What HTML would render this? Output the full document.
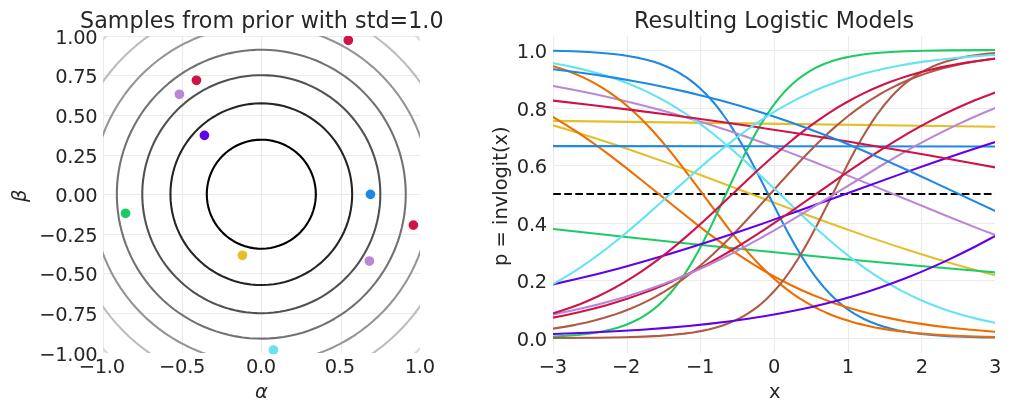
<!DOCTYPE html>
<html lang="en">
<head>
<meta charset="utf-8">
<title>Prior samples and resulting logistic models</title>
<style>
html,body{margin:0;padding:0;background:#fff;}
body{width:1011px;height:411px;overflow:hidden;font-family:"DejaVu Sans","Liberation Sans",sans-serif;}
svg text{font-family:"DejaVu Sans","Liberation Sans",sans-serif;}
</style>
</head>
<body>
<svg width="1011" height="411" viewBox="0 0 727.92 295.92" style="display:block">
 <defs>
  <style type="text/css">*{stroke-linejoin: round; stroke-linecap: butt}</style>
 </defs>
 <g id="figure_1">
  <g id="patch_1">
   <path d="M 0 295.92 
L 727.92 295.92 
L 727.92 0 
L 0 0 
z
" style="fill: #ffffff"/>
  </g>
  <g id="axes_1">
   <g id="patch_2">
    <path d="M 74.088 253.872 
L 302.184 253.872 
L 302.184 25.776 
L 74.088 25.776 
z
" style="fill: #ffffff"/>
   </g>
   <g id="matplotlib.axis_1">
    <g id="xtick_1">
     <g id="line2d_1">
      <path d="M 74.52 253.872 L 74.52 25.776" clip-path="url(#p605b40b7c9)" style="fill: none; stroke: #ebebeb; stroke-width: 0.8; stroke-linecap: square"/>
     </g>
     <g id="line2d_2"/>
     <g id="text_1">
      <text style="font-size: 14px; text-anchor: middle; fill: #262626; letter-spacing: -0.216px" x="73.296" y="268.7298">−1.0</text>
     </g>
    </g>
    <g id="xtick_2">
     <g id="line2d_3">
      <path d="M 131.4 253.872 L 131.4 25.776" clip-path="url(#p605b40b7c9)" style="fill: none; stroke: #ebebeb; stroke-width: 0.8; stroke-linecap: square"/>
     </g>
     <g id="line2d_4"/>
     <g id="text_2">
      <text style="font-size: 14px; text-anchor: middle; fill: #262626; letter-spacing: -0.216px" x="131.112" y="268.7298">−0.5</text>
     </g>
    </g>
    <g id="xtick_3">
     <g id="line2d_5">
      <path d="M 188.28 253.872 L 188.28 25.776" clip-path="url(#p605b40b7c9)" style="fill: none; stroke: #ebebeb; stroke-width: 0.8; stroke-linecap: square"/>
     </g>
     <g id="line2d_6"/>
     <g id="text_3">
      <text style="font-size: 14px; text-anchor: middle; fill: #262626; letter-spacing: -0.216px" x="187.848" y="268.7298">0.0</text>
     </g>
    </g>
    <g id="xtick_4">
     <g id="line2d_7">
      <path d="M 245.88 253.872 L 245.88 25.776" clip-path="url(#p605b40b7c9)" style="fill: none; stroke: #ebebeb; stroke-width: 0.8; stroke-linecap: square"/>
     </g>
     <g id="line2d_8"/>
     <g id="text_4">
      <text style="font-size: 14px; text-anchor: middle; fill: #262626; letter-spacing: -0.216px" x="244.62" y="268.7298">0.5</text>
     </g>
    </g>
    <g id="xtick_5">
     <g id="line2d_9">
      <path d="M 302.76 253.872 L 302.76 25.776" clip-path="url(#p605b40b7c9)" style="fill: none; stroke: #ebebeb; stroke-width: 0.8; stroke-linecap: square"/>
     </g>
     <g id="line2d_10"/>
     <g id="text_5">
      <text style="font-size: 14px; text-anchor: middle; fill: #262626; letter-spacing: -0.216px" x="302.184" y="268.7298">1.0</text>
     </g>
    </g>
    <g id="text_6">
     <g style="fill: #262626" transform="translate(183.516 286.9992)">
      <text>
       <tspan x="0" y="-0.140625" style="font-style: oblique; font-size: 14px; fill: #262626">α</tspan>
      </text>
     </g>
    </g>
   </g>
   <g id="matplotlib.axis_2">
    <g id="ytick_1">
     <g id="line2d_11">
      <path d="M 74.088 254.52 L 302.184 254.52" clip-path="url(#p605b40b7c9)" style="fill: none; stroke: #ebebeb; stroke-width: 0.8; stroke-linecap: square"/>
     </g>
     <g id="line2d_12"/>
     <g id="text_7">
      <text style="font-size: 14px; text-anchor: end; fill: #262626; letter-spacing: -0.216px" x="70.084" y="259.92">−1.00</text>
     </g>
    </g>
    <g id="ytick_2">
     <g id="line2d_13">
      <path d="M 74.088 225.72 L 302.184 225.72" clip-path="url(#p605b40b7c9)" style="fill: none; stroke: #ebebeb; stroke-width: 0.8; stroke-linecap: square"/>
     </g>
     <g id="line2d_14"/>
     <g id="text_8">
      <text style="font-size: 14px; text-anchor: end; fill: #262626; letter-spacing: -0.216px" x="70.084" y="231.12">−0.75</text>
     </g>
    </g>
    <g id="ytick_3">
     <g id="line2d_15">
      <path d="M 74.088 196.92 L 302.184 196.92" clip-path="url(#p605b40b7c9)" style="fill: none; stroke: #ebebeb; stroke-width: 0.8; stroke-linecap: square"/>
     </g>
     <g id="line2d_16"/>
     <g id="text_9">
      <text style="font-size: 14px; text-anchor: end; fill: #262626; letter-spacing: -0.216px" x="70.084" y="202.32">−0.50</text>
     </g>
    </g>
    <g id="ytick_4">
     <g id="line2d_17">
      <path d="M 74.088 168.84 L 302.184 168.84" clip-path="url(#p605b40b7c9)" style="fill: none; stroke: #ebebeb; stroke-width: 0.8; stroke-linecap: square"/>
     </g>
     <g id="line2d_18"/>
     <g id="text_10">
      <text style="font-size: 14px; text-anchor: end; fill: #262626; letter-spacing: -0.216px" x="70.084" y="174.24">−0.25</text>
     </g>
    </g>
    <g id="ytick_5">
     <g id="line2d_19">
      <path d="M 74.088 140.04 L 302.184 140.04" clip-path="url(#p605b40b7c9)" style="fill: none; stroke: #ebebeb; stroke-width: 0.8; stroke-linecap: square"/>
     </g>
     <g id="line2d_20"/>
     <g id="text_11">
      <text style="font-size: 14px; text-anchor: end; fill: #262626; letter-spacing: -0.216px" x="70.084" y="145.44">0.00</text>
     </g>
    </g>
    <g id="ytick_6">
     <g id="line2d_21">
      <path d="M 74.088 111.96 L 302.184 111.96" clip-path="url(#p605b40b7c9)" style="fill: none; stroke: #ebebeb; stroke-width: 0.8; stroke-linecap: square"/>
     </g>
     <g id="line2d_22"/>
     <g id="text_12">
      <text style="font-size: 14px; text-anchor: end; fill: #262626; letter-spacing: -0.216px" x="70.084" y="117.36">0.25</text>
     </g>
    </g>
    <g id="ytick_7">
     <g id="line2d_23">
      <path d="M 74.088 83.16 L 302.184 83.16" clip-path="url(#p605b40b7c9)" style="fill: none; stroke: #ebebeb; stroke-width: 0.8; stroke-linecap: square"/>
     </g>
     <g id="line2d_24"/>
     <g id="text_13">
      <text style="font-size: 14px; text-anchor: end; fill: #262626; letter-spacing: -0.216px" x="70.084" y="88.56">0.50</text>
     </g>
    </g>
    <g id="ytick_8">
     <g id="line2d_25">
      <path d="M 74.088 54.36 L 302.184 54.36" clip-path="url(#p605b40b7c9)" style="fill: none; stroke: #ebebeb; stroke-width: 0.8; stroke-linecap: square"/>
     </g>
     <g id="line2d_26"/>
     <g id="text_14">
      <text style="font-size: 14px; text-anchor: end; fill: #262626; letter-spacing: -0.216px" x="70.084" y="59.76">0.75</text>
     </g>
    </g>
    <g id="ytick_9">
     <g id="line2d_27">
      <path d="M 74.088 26.28 L 302.184 26.28" clip-path="url(#p605b40b7c9)" style="fill: none; stroke: #ebebeb; stroke-width: 0.8; stroke-linecap: square"/>
     </g>
     <g id="line2d_28"/>
     <g id="text_15">
      <text style="font-size: 14px; text-anchor: end; fill: #262626; letter-spacing: -0.216px" x="70.084" y="31.68">1.00</text>
     </g>
    </g>
    <g id="text_16">
     <g style="fill: #262626" transform="translate(18.8006 145.528) rotate(-90)">
      <text>
       <tspan x="0" y="-0.28125" style="font-style: oblique; font-size: 14px; fill: #262626">β</tspan>
      </text>
     </g>
    </g>
   </g>
   <g id="line2d_29">
    <path d="M 227.391322 139.824 
L 227.269704 136.73636 
L 226.905603 133.667851 
L 226.301276 130.637488 
L 225.460467 127.664047 
L 224.388385 124.765952 
L 223.091675 121.96116 
L 221.57837 119.267051 
L 219.857848 116.700319 
L 217.940769 114.276867 
L 215.839012 112.011711 
L 213.565599 109.918888 
L 211.134619 108.011364 
L 208.561133 106.30096 
L 205.861087 104.798273 
L 203.051212 103.512615 
L 200.148919 102.451951 
L 197.172191 101.622854 
L 194.139472 101.030462 
L 191.069554 100.678444 
L 187.981459 100.568983 
L 184.894321 100.702755 
L 181.82727 101.078933 
L 178.799309 101.695186 
L 175.829201 102.547694 
L 172.935349 103.631176 
L 170.135684 104.938919 
L 167.447554 106.462818 
L 164.887615 108.193432 
L 162.471728 110.120037 
L 160.214865 112.230695 
L 158.131007 114.512329 
L 156.233069 116.9508 
L 154.532809 119.531 
L 153.040764 122.23694 
L 151.766177 125.051855 
L 150.716948 127.958301 
L 149.899577 130.93827 
L 149.319128 133.973298 
L 148.979199 137.044578 
L 148.881895 140.13308 
L 149.02782 143.219667 
L 149.41607 146.285214 
L 150.044238 149.310725 
L 150.908433 152.277454 
L 152.003299 155.167018 
L 153.322053 157.961513 
L 154.856523 160.643623 
L 156.597202 163.196729 
L 158.533303 165.605012 
L 160.652829 167.853549 
L 162.942649 169.928408 
L 165.388574 171.816731 
L 167.975447 173.50682 
L 170.68724 174.988201 
L 173.507151 176.251696 
L 176.417705 177.289475 
L 179.400869 178.095109 
L 182.438158 178.663604 
L 185.510753 178.99144 
L 188.599614 179.076584 
L 191.685603 178.918508 
L 194.749597 178.518193 
L 197.772612 177.878119 
L 200.735916 177.002252 
L 203.621147 175.896018 
L 206.410428 174.566273 
L 209.086477 173.021256 
L 211.632711 171.27054 
L 214.033353 169.324973 
L 216.273528 167.19661 
L 218.339356 164.89864 
L 220.218036 162.4453 
L 221.897928 159.851794 
L 223.368622 157.134189 
L 224.621005 154.309327 
L 225.647318 151.394709 
L 226.441201 148.408397 
L 226.997735 145.368893 
L 227.313472 142.295031 
L 227.391322 139.824 
L 227.391322 139.824 
" clip-path="url(#p605b40b7c9)" style="fill: none; stroke: #000000; stroke-width: 1.5; stroke-linecap: square"/>
   </g>
   <g id="line2d_30">
    <path d="M 253.565338 139.824 
L 253.43558 135.705375 
L 253.046822 131.603086 
L 252.400605 127.533403 
L 251.499493 123.51247 
L 250.347059 119.556234 
L 248.947875 115.680386 
L 247.30749 111.900301 
L 245.432411 108.23097 
L 243.330074 104.686948 
L 241.008819 101.282292 
L 238.477852 98.030505 
L 235.747212 94.944486 
L 232.827729 92.036475 
L 229.730984 89.318005 
L 226.469258 86.799859 
L 223.05549 84.492025 
L 219.503219 82.403657 
L 215.826535 80.543038 
L 212.040021 78.917547 
L 208.158695 77.533632 
L 204.197953 76.396783 
L 200.173503 75.511507 
L 196.101308 74.881317 
L 191.99752 74.508712 
L 187.878416 74.395169 
L 183.760334 74.54114 
L 179.659607 74.946045 
L 175.5925 75.608279 
L 171.575146 76.525214 
L 167.623477 77.693214 
L 163.753168 79.107645 
L 159.979569 80.762899 
L 156.317649 82.65241 
L 152.781931 84.768682 
L 149.38644 87.103323 
L 146.144642 89.647072 
L 143.069397 92.38984 
L 140.172902 95.320748 
L 137.466644 98.428172 
L 134.961359 101.699785 
L 132.666982 105.122612 
L 130.592615 108.683077 
L 128.746485 112.367058 
L 127.135913 116.159942 
L 125.767289 120.046686 
L 124.646041 124.011873 
L 123.776616 128.039777 
L 123.162462 132.114421 
L 122.806016 136.219644 
L 122.708691 140.339163 
L 122.870872 144.456639 
L 123.291918 148.55574 
L 123.970158 152.620208 
L 124.902902 156.633922 
L 126.086449 160.580962 
L 127.516107 164.445673 
L 129.186204 168.212726 
L 131.090116 171.867179 
L 133.220291 175.394538 
L 135.568282 178.780812 
L 138.124773 182.01257 
L 140.879627 185.076993 
L 143.821915 187.961928 
L 146.939969 190.655931 
L 150.22142 193.148317 
L 153.653253 195.429201 
L 157.221857 197.489535 
L 160.913077 199.321148 
L 164.712272 200.916775 
L 168.604374 202.270087 
L 172.573945 203.375716 
L 176.60524 204.229278 
L 180.68227 204.827386 
L 184.788865 205.167668 
L 188.908735 205.248774 
L 193.025541 205.070384 
L 197.122952 204.633204 
L 201.184719 203.938968 
L 205.194729 202.990431 
L 209.137079 201.791353 
L 212.996132 200.346492 
L 216.756581 198.661578 
L 220.40351 196.743294 
L 223.922456 194.599248 
L 227.29946 192.237945 
L 230.521128 189.66875 
L 233.574683 186.901854 
L 236.448012 183.948231 
L 239.129719 180.819596 
L 241.609167 177.528358 
L 243.876523 174.087572 
L 245.922792 170.510885 
L 247.739859 166.812483 
L 249.320517 163.007035 
L 250.658496 159.109636 
L 251.748489 155.135743 
L 252.586173 151.101118 
L 253.168226 147.021765 
L 253.492338 142.913863 
L 253.565338 139.824 
L 253.565338 139.824 
" clip-path="url(#p605b40b7c9)" style="fill: none; stroke: #242424; stroke-width: 1.5; stroke-linecap: square"/>
   </g>
   <g id="line2d_31">
    <path d="M 273.843072 139.824 
L 273.747449 135.776533 
L 273.460793 131.738097 
L 272.983745 127.717704 
L 272.317368 123.724325 
L 271.463149 119.766871 
L 270.422995 115.854172 
L 269.199226 111.994959 
L 267.794574 108.197844 
L 266.212172 104.471299 
L 264.455552 100.823639 
L 262.528633 97.263005 
L 260.435715 93.797341 
L 258.181468 90.43438 
L 255.770922 87.181627 
L 253.209457 84.046339 
L 250.502787 81.035514 
L 247.656952 78.155868 
L 244.678303 75.413828 
L 241.573485 72.815513 
L 238.349428 70.366719 
L 235.013325 68.072912 
L 231.572621 65.93921 
L 228.034992 63.970374 
L 224.408333 62.170796 
L 220.700736 60.544494 
L 216.920475 59.095094 
L 213.075984 57.825833 
L 209.175842 56.739542 
L 205.228753 55.838644 
L 201.243522 55.125151 
L 197.229044 54.600654 
L 193.194275 54.266323 
L 189.14822 54.122905 
L 185.099906 54.17072 
L 181.058366 54.409661 
L 177.03262 54.839195 
L 173.031649 55.458363 
L 169.064382 56.265783 
L 165.139672 57.259655 
L 161.266275 58.43776 
L 157.452835 59.79747 
L 153.707861 61.33575 
L 150.03971 63.049168 
L 146.456567 64.9339 
L 142.966427 66.985742 
L 139.577077 69.200114 
L 136.296082 71.572076 
L 133.130762 74.096335 
L 130.08818 76.767258 
L 127.175125 79.578885 
L 124.398098 82.524942 
L 121.763295 85.598856 
L 119.276595 88.793768 
L 116.943548 92.102548 
L 114.769359 95.517813 
L 112.75888 99.031943 
L 110.916596 102.637095 
L 109.24662 106.325226 
L 107.752676 110.088106 
L 106.438099 113.917339 
L 105.305821 117.804379 
L 104.358371 121.740554 
L 103.597861 125.71708 
L 103.025988 129.725084 
L 102.64403 133.755622 
L 102.452837 137.799702 
L 102.452837 141.848298 
L 102.64403 145.892378 
L 103.025988 149.922916 
L 103.597861 153.93092 
L 104.358371 157.907446 
L 105.305821 161.843621 
L 106.438099 165.730661 
L 107.752676 169.559894 
L 109.24662 173.322774 
L 110.916596 177.010905 
L 112.75888 180.616057 
L 114.769359 184.130187 
L 116.943548 187.545452 
L 119.276595 190.854232 
L 121.763295 194.049144 
L 124.398098 197.123058 
L 127.175125 200.069115 
L 130.08818 202.880742 
L 133.130762 205.551665 
L 136.296082 208.075924 
L 139.577077 210.447886 
L 142.966427 212.662258 
L 146.456567 214.7141 
L 150.03971 216.598832 
L 153.707861 218.31225 
L 157.452835 219.85053 
L 161.266275 221.21024 
L 165.139672 222.388345 
L 169.064382 223.382217 
L 173.031649 224.189637 
L 177.03262 224.808805 
L 181.058366 225.238339 
L 185.099906 225.47728 
L 189.14822 225.525095 
L 193.194275 225.381677 
L 197.229044 225.047346 
L 201.243522 224.522849 
L 205.228753 223.809356 
L 209.175842 222.908458 
L 213.075984 221.822167 
L 216.920475 220.552906 
L 220.700736 219.103506 
L 224.408333 217.477204 
L 228.034992 215.677626 
L 231.572621 213.70879 
L 235.013325 211.575088 
L 238.349428 209.281281 
L 241.573485 206.832487 
L 244.678303 204.234172 
L 247.656952 201.492132 
L 250.502787 198.612486 
L 253.209457 195.601661 
L 255.770922 192.466373 
L 258.181468 189.21362 
L 260.435715 185.850659 
L 262.528633 182.384995 
L 264.455552 178.824361 
L 266.212172 175.176701 
L 267.794574 171.450156 
L 269.199226 167.653041 
L 270.422995 163.793828 
L 271.463149 159.881129 
L 272.317368 155.923675 
L 272.983745 151.930296 
L 273.460793 147.909903 
L 273.747449 143.871467 
L 273.843072 139.824 
L 273.843072 139.824 
" clip-path="url(#p605b40b7c9)" style="fill: none; stroke: #515151; stroke-width: 1.5; stroke-linecap: square"/>
   </g>
   <g id="line2d_32">
    <path d="M 292.147776 139.824 
L 292.031731 134.912104 
L 291.683853 130.011168 
L 291.10492 125.132128 
L 290.296223 120.285872 
L 289.259566 115.483213 
L 287.997263 110.734868 
L 286.512131 106.051432 
L 284.807483 101.443355 
L 282.887123 96.920921 
L 280.755337 92.494221 
L 278.41688 88.173132 
L 275.876972 83.967296 
L 273.141279 79.886098 
L 270.215906 75.938645 
L 267.107381 72.133745 
L 263.822639 68.479889 
L 260.369011 64.985229 
L 256.754204 61.657564 
L 252.986282 58.504319 
L 249.073653 55.53253 
L 245.025049 52.748828 
L 240.849504 50.159425 
L 236.556333 47.770098 
L 232.155119 45.58618 
L 227.65568 43.612543 
L 223.068057 41.853592 
L 218.402488 40.31325 
L 213.669381 38.994957 
L 208.879301 37.901652 
L 204.042933 37.035776 
L 199.171071 36.39926 
L 194.274586 35.993526 
L 189.364402 35.819478 
L 184.451478 35.877505 
L 179.546776 36.167477 
L 174.661239 36.688747 
L 169.80577 37.440153 
L 164.991202 38.420016 
L 160.22828 39.626152 
L 155.527631 41.055868 
L 150.899744 42.705975 
L 146.354945 44.57279 
L 141.903377 46.652147 
L 137.554971 48.939408 
L 133.319432 51.429467 
L 129.206209 54.11677 
L 125.224483 56.995318 
L 121.383136 60.05869 
L 117.690741 63.300049 
L 114.155537 66.712164 
L 110.785412 70.287419 
L 107.587887 74.017838 
L 104.570096 77.895096 
L 101.738773 81.910541 
L 99.100236 86.055214 
L 96.660373 90.319866 
L 94.424628 94.694982 
L 92.397989 99.170798 
L 90.58498 103.737327 
L 88.989645 108.384379 
L 87.615544 113.101586 
L 86.465743 117.87842 
L 85.542809 122.704224 
L 84.8488 127.568229 
L 84.385266 132.459581 
L 84.153239 137.367367 
L 84.153239 142.280633 
L 84.385266 147.188419 
L 84.8488 152.079771 
L 85.542809 156.943776 
L 86.465743 161.76958 
L 87.615544 166.546414 
L 88.989645 171.263621 
L 90.58498 175.910673 
L 92.397989 180.477202 
L 94.424628 184.953018 
L 96.660373 189.328134 
L 99.100236 193.592786 
L 101.738773 197.737459 
L 104.570096 201.752904 
L 107.587887 205.630162 
L 110.785412 209.360581 
L 114.155537 212.935836 
L 117.690741 216.347951 
L 121.383136 219.58931 
L 125.224483 222.652682 
L 129.206209 225.53123 
L 133.319432 228.218533 
L 137.554971 230.708592 
L 141.903377 232.995853 
L 146.354945 235.07521 
L 150.899744 236.942025 
L 155.527631 238.592132 
L 160.22828 240.021848 
L 164.991202 241.227984 
L 169.80577 242.207847 
L 174.661239 242.959253 
L 179.546776 243.480523 
L 184.451478 243.770495 
L 189.364402 243.828522 
L 194.274586 243.654474 
L 199.171071 243.24874 
L 204.042933 242.612224 
L 208.879301 241.746348 
L 213.669381 240.653043 
L 218.402488 239.33475 
L 223.068057 237.794408 
L 227.65568 236.035457 
L 232.155119 234.06182 
L 236.556333 231.877902 
L 240.849504 229.488575 
L 245.025049 226.899172 
L 249.073653 224.11547 
L 252.986282 221.143681 
L 256.754204 217.990436 
L 260.369011 214.662771 
L 263.822639 211.168111 
L 267.107381 207.514255 
L 270.215906 203.709355 
L 273.141279 199.761902 
L 275.876972 195.680704 
L 278.41688 191.474868 
L 280.755337 187.153779 
L 282.887123 182.727079 
L 284.807483 178.204645 
L 286.512131 173.596568 
L 287.997263 168.913132 
L 289.259566 164.164787 
L 290.296223 159.362128 
L 291.10492 154.515872 
L 291.683853 149.636832 
L 292.031731 144.735896 
L 292.147776 139.824 
L 292.147776 139.824 
" clip-path="url(#p605b40b7c9)" style="fill: none; stroke: #727272; stroke-width: 1.5; stroke-linecap: square"/>
   </g>
   <g id="line2d_33">
    <path d="M 309.90505 139.824 
L 309.769192 134.073527 
L 309.361924 128.335885 
L 308.684153 122.623878 
L 307.737392 116.950251 
L 306.523754 111.327664 
L 305.045946 105.768664 
L 303.307267 100.285654 
L 301.311595 94.89087 
L 299.063384 89.59635 
L 296.567651 84.413907 
L 293.829965 79.355105 
L 290.856434 74.431233 
L 287.653693 69.653278 
L 284.22889 65.031902 
L 280.589666 60.577416 
L 276.744141 56.299759 
L 272.700897 52.208479 
L 268.468956 48.312702 
L 264.057761 44.621123 
L 259.477154 41.141979 
L 254.737357 37.883034 
L 249.848947 34.851558 
L 244.822831 32.054317 
L 239.670225 29.497552 
L 234.402625 27.186969 
L 229.031787 25.127723 
L 223.569694 23.324409 
L 218.028534 21.781051 
L 212.420673 20.501093 
L 206.758623 19.487392 
L 201.055019 18.742208 
L 195.322587 18.267205 
L 189.57412 18.063443 
L 183.822443 18.131376 
L 178.080392 18.470853 
L 172.360778 19.081117 
L 166.676365 19.960805 
L 161.039837 21.107955 
L 155.463772 22.520006 
L 149.96061 24.193809 
L 144.542633 26.125628 
L 139.22193 28.311152 
L 134.010373 30.745506 
L 128.919592 33.423256 
L 123.960945 36.338427 
L 119.145499 39.484516 
L 114.483997 42.854501 
L 109.986841 46.440862 
L 105.664067 50.235599 
L 101.52532 54.230242 
L 97.579835 58.415878 
L 93.836416 62.783167 
L 90.303417 67.322365 
L 86.98872 72.023342 
L 83.899723 76.875609 
L 81.043317 81.868338 
L 78.425877 86.990389 
L 76.053243 92.230333 
L 73.93071 97.576477 
L 72.063014 103.016891 
L 70.454321 108.539437 
L 69.108223 114.13179 
L 68.027722 119.781473 
L 67.215229 125.475879 
L 66.672558 131.202301 
L 66.400919 136.947961 
L 66.400919 142.700039 
L 66.672558 148.445699 
L 67.215229 154.172121 
L 68.027722 159.866527 
L 69.108223 165.51621 
L 70.454321 171.108563 
L 72.063014 176.631109 
L 73.93071 182.071523 
L 76.053243 187.417667 
L 78.425877 192.657611 
L 81.043317 197.779662 
L 83.899723 202.772391 
L 86.98872 207.624658 
L 90.303417 212.325635 
L 93.836416 216.864833 
L 97.579835 221.232122 
L 101.52532 225.417758 
L 105.664067 229.412401 
L 109.986841 233.207138 
L 114.483997 236.793499 
L 119.145499 240.163484 
L 123.960945 243.309573 
L 128.919592 246.224744 
L 134.010373 248.902494 
L 139.22193 251.336848 
L 144.542633 253.522372 
L 149.96061 255.454191 
L 155.463772 257.127994 
L 161.039837 258.540045 
L 166.676365 259.687195 
L 172.360778 260.566883 
L 178.080392 261.177147 
L 183.822443 261.516624 
L 189.57412 261.584557 
L 195.322587 261.380795 
L 201.055019 260.905792 
L 206.758623 260.160608 
L 212.420673 259.146907 
L 218.028534 257.866949 
L 223.569694 256.323591 
L 229.031787 254.520277 
L 234.402625 252.461031 
L 239.670225 250.150448 
L 244.822831 247.593683 
L 249.848947 244.796442 
L 254.737357 241.764966 
L 259.477154 238.506021 
L 264.057761 235.026877 
L 268.468956 231.335298 
L 272.700897 227.439521 
L 276.744141 223.348241 
L 280.589666 219.070584 
L 284.22889 214.616098 
L 287.653693 209.994722 
L 290.856434 205.216767 
L 293.829965 200.292895 
L 296.567651 195.234093 
L 299.063384 190.05165 
L 301.311595 184.75713 
L 303.307267 179.362346 
L 305.045946 173.879336 
L 306.523754 168.320336 
L 307.737392 162.697749 
L 308.684153 157.024122 
L 309.361924 151.312115 
L 309.769192 145.574473 
L 309.90505 139.824 
L 309.90505 139.824 
" clip-path="url(#p605b40b7c9)" style="fill: none; stroke: #959595; stroke-width: 1.5; stroke-linecap: square"/>
   </g>
   <g id="line2d_34">
    <path d="M 328.038682 139.824 
L 327.882593 133.217176 
L 327.414675 126.625095 
L 326.635971 120.062466 
L 325.548221 113.543932 
L 324.153849 107.08404 
L 322.455969 100.697203 
L 320.458368 94.397674 
L 318.165505 88.199508 
L 315.582495 82.116537 
L 312.715101 76.162333 
L 309.569723 70.350184 
L 306.153379 64.693058 
L 302.473692 59.203578 
L 298.538873 53.893994 
L 294.357702 48.776154 
L 289.939509 43.861477 
L 285.294153 39.16093 
L 280.431998 34.685001 
L 275.363895 30.443679 
L 270.101153 26.446427 
L 264.655514 22.702165 
L 259.03913 19.219247 
L 253.264534 16.005446 
L 247.34461 13.067932 
L 241.292569 10.413261 
L 235.121915 8.047355 
L 228.846417 5.975495 
L 222.480078 4.202303 
L 216.037104 2.731736 
L 209.531872 1.567076 
L 202.978897 0.710921 
L 196.392801 0.165182 
L 189.788282 -0.068924 
L 183.180076 0.009125 
L 176.582928 0.399157 
L 170.01156 1.1003 
L 163.480634 2.110989 
L 157.004725 3.428971 
L 150.598281 5.051303 
L 144.275599 6.974365 
L 138.050786 9.193867 
L 131.937733 11.704856 
L 125.95008 14.501729 
L 120.101189 17.578244 
L 114.404109 20.927538 
L 108.871555 24.542137 
L 103.51587 28.413974 
L 98.349006 32.53441 
L 93.382492 36.894252 
L 88.62741 41.48377 
L 84.09437 46.292724 
L 79.793489 51.310382 
L 75.734361 56.525549 
L 71.926046 61.926588 
L 68.37704 67.501446 
L 65.095264 73.237683 
L 62.088039 79.122501 
L 59.362077 85.142768 
L 56.92346 91.28505 
L 54.777629 97.535641 
L 52.929373 103.880595 
L 51.382816 110.305752 
L 50.141409 116.796775 
L 49.207921 123.339182 
L 48.584437 129.918373 
L 48.272346 136.519666 
L 48.272346 143.128334 
L 48.584437 149.729627 
L 49.207921 156.308818 
L 50.141409 162.851225 
L 51.382816 169.342248 
L 52.929373 175.767405 
L 54.777629 182.112359 
L 56.92346 188.36295 
L 59.362077 194.505232 
L 62.088039 200.525499 
L 65.095264 206.410317 
L 68.37704 212.146554 
L 71.926046 217.721412 
L 75.734361 223.122451 
L 79.793489 228.337618 
L 84.09437 233.355276 
L 88.62741 238.16423 
L 93.382492 242.753748 
L 98.349006 247.11359 
L 103.51587 251.234026 
L 108.871555 255.105863 
L 114.404109 258.720462 
L 120.101189 262.069756 
L 125.95008 265.146271 
L 131.937733 267.943144 
L 138.050786 270.454133 
L 144.275599 272.673635 
L 150.598281 274.596697 
L 157.004725 276.219029 
L 163.480634 277.537011 
L 170.01156 278.5477 
L 176.582928 279.248843 
L 183.180076 279.638875 
L 189.788282 279.716924 
L 196.392801 279.482818 
L 202.978897 278.937079 
L 209.531872 278.080924 
L 216.037104 276.916264 
L 222.480078 275.445697 
L 228.846417 273.672505 
L 235.121915 271.600645 
L 241.292569 269.234739 
L 247.34461 266.580068 
L 253.264534 263.642554 
L 259.03913 260.428753 
L 264.655514 256.945835 
L 270.101153 253.201573 
L 275.363895 249.204321 
L 280.431998 244.962999 
L 285.294153 240.48707 
L 289.939509 235.786523 
L 294.357702 230.871846 
L 298.538873 225.754006 
L 302.473692 220.444422 
L 306.153379 214.954942 
L 309.569723 209.297816 
L 312.715101 203.485667 
L 315.582495 197.531463 
L 318.165505 191.448492 
L 320.458368 185.250326 
L 322.455969 178.950797 
L 324.153849 172.56396 
L 325.548221 166.104068 
L 326.635971 159.585534 
L 327.414675 153.022905 
L 327.882593 146.430824 
L 328.038682 139.824 
L 328.038682 139.824 
" clip-path="url(#p605b40b7c9)" style="fill: none; stroke: #bdbdbd; stroke-width: 1.5; stroke-linecap: square"/>
   </g>
   <g id="line2d_35">
    <path d="M 347.461056 139.824 
L 347.382044 134.806941 
L 347.145087 129.794857 
L 346.75042 124.792721 
L 346.198433 119.805493 
L 345.489676 114.838121 
L 344.62485 109.89553 
L 343.604813 104.982623 
L 342.430578 100.104273 
L 341.103308 95.265318 
L 339.62432 90.470558 
L 337.995082 85.724748 
L 336.217208 81.032596 
L 334.292463 76.398755 
L 332.222755 71.827821 
L 330.010138 67.324327 
L 327.656805 62.892741 
L 325.165091 58.537459 
L 322.537467 54.262798 
L 319.776539 50.073 
L 316.885046 45.97222 
L 313.865856 41.964525 
L 310.721963 38.05389 
L 307.456485 34.244194 
L 304.072661 30.539216 
L 300.573848 26.942629 
L 296.963515 23.458002 
L 293.245244 20.088791 
L 289.422722 16.838336 
L 285.49974 13.709863 
L 281.48019 10.706474 
L 277.368059 7.831147 
L 273.167424 5.086736 
L 268.882452 2.475961 
L 262.649415 -1 
M 113.626606 -1 
L 110.656069 0.607141 
L 106.310629 3.115982 
L 102.046347 5.760414 
L 97.86745 8.537815 
L 93.778085 11.445429 
L 89.782307 14.480374 
L 85.88408 17.639638 
L 82.087269 20.920089 
L 78.395641 24.318472 
L 74.812856 27.831417 
L 71.342469 31.45544 
L 67.987922 35.186947 
L 64.752542 39.022236 
L 61.639537 42.957503 
L 58.651995 46.988846 
L 55.792879 51.112265 
L 53.065026 55.323672 
L 50.471141 59.618888 
L 48.013795 63.993655 
L 45.695428 68.443633 
L 43.518337 72.964407 
L 41.484683 77.551496 
L 39.596483 82.200348 
L 37.855608 86.906353 
L 36.263787 91.664844 
L 34.822597 96.4711 
L 33.533468 101.320355 
L 32.397679 106.2078 
L 31.416356 111.128586 
L 30.590473 116.077833 
L 29.920849 121.050632 
L 29.408147 126.042051 
L 29.052876 131.047139 
L 28.85539 136.060933 
L 28.815883 141.078459 
L 28.934394 146.094741 
L 29.210807 151.104803 
L 29.644847 156.103677 
L 30.236083 161.086404 
L 30.98393 166.048042 
L 31.887645 170.983671 
L 32.946332 175.888394 
L 34.158942 180.757347 
L 35.52427 185.585702 
L 37.040964 190.368668 
L 38.707518 195.101503 
L 40.522281 199.779512 
L 42.483451 204.398055 
L 44.589085 208.952551 
L 46.837092 213.438483 
L 49.225245 217.851403 
L 51.751173 222.186932 
L 54.412373 226.440771 
L 57.206204 230.608701 
L 60.129895 234.686587 
L 63.180546 238.670386 
L 66.355133 242.556146 
L 69.650505 246.340013 
L 73.063395 250.018234 
L 76.590418 253.58716 
L 80.228076 257.043253 
L 83.97276 260.383084 
L 87.820756 263.603341 
L 91.768248 266.700829 
L 95.811321 269.672477 
L 99.945964 272.515337 
L 104.168077 275.22659 
L 108.473472 277.803546 
L 112.857879 280.243649 
L 117.316949 282.54448 
L 121.84626 284.703756 
L 126.441319 286.719336 
L 131.097568 288.58922 
L 135.810391 290.311555 
L 140.575111 291.88463 
L 145.387004 293.306888 
L 150.241297 294.576916 
L 155.133174 295.693455 
L 161.605894 296.92 
M 214.681348 296.92 
L 217.448169 296.42946 
L 222.365054 295.428773 
L 227.247989 294.273752 
L 232.092132 292.965542 
L 236.892677 291.505442 
L 241.644864 289.8949 
L 246.343979 288.135512 
L 250.985362 286.229024 
L 255.564409 284.177328 
L 260.076578 281.982457 
L 264.517394 279.646588 
L 268.882452 277.172039 
L 273.167424 274.561264 
L 277.368059 271.816853 
L 281.48019 268.941526 
L 285.49974 265.938137 
L 289.422722 262.809664 
L 293.245244 259.559209 
L 296.963515 256.189998 
L 300.573848 252.705371 
L 304.072661 249.108784 
L 307.456485 245.403806 
L 310.721963 241.59411 
L 313.865856 237.683475 
L 316.885046 233.67578 
L 319.776539 229.575 
L 322.537467 225.385202 
L 325.165091 221.110541 
L 327.656805 216.755259 
L 330.010138 212.323673 
L 332.222755 207.820179 
L 334.292463 203.249245 
L 336.217208 198.615404 
L 337.995082 193.923252 
L 339.62432 189.177442 
L 341.103308 184.382682 
L 342.430578 179.543727 
L 343.604813 174.665377 
L 344.62485 169.75247 
L 345.489676 164.809879 
L 346.198433 159.842507 
L 346.75042 154.855279 
L 347.145087 149.853143 
L 347.382044 144.841059 
L 347.461056 139.824 
L 347.461056 139.824 
" clip-path="url(#p605b40b7c9)" style="fill: none; stroke: #d9d9d9; stroke-width: 1.5; stroke-linecap: square"/>
   </g>
   <circle cx="174.5529" cy="183.8123" r="3" clip-path="url(#cm1)" style="fill: #e3bf2a; stroke: #e3bf2a; stroke-width: 1"/>
<circle cx="90.3855" cy="153.5668" r="3" clip-path="url(#cm1)" style="fill: #1dcb65; stroke: #1dcb65; stroke-width: 1"/>
<circle cx="265.9624" cy="187.9523" r="3" clip-path="url(#cm1)" style="fill: #ba87d6; stroke: #ba87d6; stroke-width: 1"/>
<circle cx="266.7151" cy="139.9495" r="3" clip-path="url(#cm1)" style="fill: #1e88e5; stroke: #1e88e5; stroke-width: 1"/>
<circle cx="196.8721" cy="252.0358" r="3" clip-path="url(#cm1)" style="fill: #64e4f2; stroke: #64e4f2; stroke-width: 1"/>
<circle cx="147.1928" cy="97.4666" r="3" clip-path="url(#cm1)" style="fill: #6200ea; stroke: #6200ea; stroke-width: 1"/>
<circle cx="141.4333" cy="57.8121" r="3" clip-path="url(#cm1)" style="fill: #cf1248; stroke: #cf1248; stroke-width: 1"/>
<circle cx="129.1846" cy="67.8939" r="3" clip-path="url(#cm1)" style="fill: #ba87d6; stroke: #ba87d6; stroke-width: 1"/>
<circle cx="297.6449" cy="162.052" r="3" clip-path="url(#cm1)" style="fill: #cf1248; stroke: #cf1248; stroke-width: 1"/>
<circle cx="250.7712" cy="29.015" r="3" clip-path="url(#cm1)" style="fill: #cf1248; stroke: #cf1248; stroke-width: 1"/>
<g id="text_17">
    <text style="font-size: 16px; text-anchor: middle; fill: #262626; letter-spacing: 0.0259px" x="188.532" y="20.496">Samples from prior with std=1.0</text>
   </g>
  </g>
  <g id="axes_2">
   <g id="patch_3">
    <path d="M 398.304 253.872 
L 716.3424 253.872 
L 716.3424 25.776 
L 398.304 25.776 
z
" style="fill: #ffffff"/>
   </g>
   <g id="matplotlib.axis_3">
    <g id="xtick_6">
     <g id="line2d_36">
      <path d="M 398.52 253.872 L 398.52 25.776" clip-path="url(#p7bc6115513)" style="fill: none; stroke: #ebebeb; stroke-width: 0.8; stroke-linecap: square"/>
     </g>
     <g id="line2d_37"/>
     <g id="text_18">
      <text style="font-size: 14px; text-anchor: middle; fill: #262626; letter-spacing: -0.216px" x="397.944" y="268.7298">−3</text>
     </g>
    </g>
    <g id="xtick_7">
     <g id="line2d_38">
      <path d="M 451.8 253.872 L 451.8 25.776" clip-path="url(#p7bc6115513)" style="fill: none; stroke: #ebebeb; stroke-width: 0.8; stroke-linecap: square"/>
     </g>
     <g id="line2d_39"/>
     <g id="text_19">
      <text style="font-size: 14px; text-anchor: middle; fill: #262626; letter-spacing: -0.216px" x="450.7344" y="268.7298">−2</text>
     </g>
    </g>
    <g id="xtick_8">
     <g id="line2d_40">
      <path d="M 504.36 253.872 L 504.36 25.776" clip-path="url(#p7bc6115513)" style="fill: none; stroke: #ebebeb; stroke-width: 0.8; stroke-linecap: square"/>
     </g>
     <g id="line2d_41"/>
     <g id="text_20">
      <text style="font-size: 14px; text-anchor: middle; fill: #262626; letter-spacing: -0.216px" x="503.9568" y="268.7298">−1</text>
     </g>
    </g>
    <g id="xtick_9">
     <g id="line2d_42">
      <path d="M 557.64 253.872 L 557.64 25.776" clip-path="url(#p7bc6115513)" style="fill: none; stroke: #ebebeb; stroke-width: 0.8; stroke-linecap: square"/>
     </g>
     <g id="line2d_43"/>
     <g id="text_21">
      <text style="font-size: 14px; text-anchor: middle; fill: #262626; letter-spacing: -0.216px" x="557.2512" y="268.7298">0</text>
     </g>
    </g>
    <g id="xtick_10">
     <g id="line2d_44">
      <path d="M 610.92 253.872 L 610.92 25.776" clip-path="url(#p7bc6115513)" style="fill: none; stroke: #ebebeb; stroke-width: 0.8; stroke-linecap: square"/>
     </g>
     <g id="line2d_45"/>
     <g id="text_22">
      <text style="font-size: 14px; text-anchor: middle; fill: #262626; letter-spacing: -0.216px" x="610.4736" y="268.7298">1</text>
     </g>
    </g>
    <g id="xtick_11">
     <g id="line2d_46">
      <path d="M 663.48 253.872 L 663.48 25.776" clip-path="url(#p7bc6115513)" style="fill: none; stroke: #ebebeb; stroke-width: 0.8; stroke-linecap: square"/>
     </g>
     <g id="line2d_47"/>
     <g id="text_23">
      <text style="font-size: 14px; text-anchor: middle; fill: #262626; letter-spacing: -0.216px" x="663.696" y="268.7298">2</text>
     </g>
    </g>
    <g id="xtick_12">
     <g id="line2d_48">
      <path d="M 716.76 253.872 L 716.76 25.776" clip-path="url(#p7bc6115513)" style="fill: none; stroke: #ebebeb; stroke-width: 0.8; stroke-linecap: square"/>
     </g>
     <g id="line2d_49"/>
     <g id="text_24">
      <text style="font-size: 14px; text-anchor: middle; fill: #262626; letter-spacing: -0.216px" x="716.3424" y="268.7298">3</text>
     </g>
    </g>
    <g id="text_25">
     <text style="font-size: 14px; text-anchor: middle; fill: #262626" x="557.8992" y="286.2792">x</text>
    </g>
   </g>
   <g id="matplotlib.axis_4">
    <g id="ytick_10">
     <g id="line2d_50">
      <path d="M 398.304 243.72 L 716.3424 243.72" clip-path="url(#p7bc6115513)" style="fill: none; stroke: #ebebeb; stroke-width: 0.8; stroke-linecap: square"/>
     </g>
     <g id="line2d_51"/>
     <g id="text_26">
      <text style="font-size: 14px; text-anchor: end; fill: #262626; letter-spacing: -0.216px" x="393.724" y="249.12">0.0</text>
     </g>
    </g>
    <g id="ytick_11">
     <g id="line2d_52">
      <path d="M 398.304 201.96 L 716.3424 201.96" clip-path="url(#p7bc6115513)" style="fill: none; stroke: #ebebeb; stroke-width: 0.8; stroke-linecap: square"/>
     </g>
     <g id="line2d_53"/>
     <g id="text_27">
      <text style="font-size: 14px; text-anchor: end; fill: #262626; letter-spacing: -0.216px" x="393.724" y="207.36">0.2</text>
     </g>
    </g>
    <g id="ytick_12">
     <g id="line2d_54">
      <path d="M 398.304 160.92 L 716.3424 160.92" clip-path="url(#p7bc6115513)" style="fill: none; stroke: #ebebeb; stroke-width: 0.8; stroke-linecap: square"/>
     </g>
     <g id="line2d_55"/>
     <g id="text_28">
      <text style="font-size: 14px; text-anchor: end; fill: #262626; letter-spacing: -0.216px" x="393.724" y="166.32">0.4</text>
     </g>
    </g>
    <g id="ytick_13">
     <g id="line2d_56">
      <path d="M 398.304 119.16 L 716.3424 119.16" clip-path="url(#p7bc6115513)" style="fill: none; stroke: #ebebeb; stroke-width: 0.8; stroke-linecap: square"/>
     </g>
     <g id="line2d_57"/>
     <g id="text_29">
      <text style="font-size: 14px; text-anchor: end; fill: #262626; letter-spacing: -0.216px" x="393.724" y="124.56">0.6</text>
     </g>
    </g>
    <g id="ytick_14">
     <g id="line2d_58">
      <path d="M 398.304 78.12 L 716.3424 78.12" clip-path="url(#p7bc6115513)" style="fill: none; stroke: #ebebeb; stroke-width: 0.8; stroke-linecap: square"/>
     </g>
     <g id="line2d_59"/>
     <g id="text_30">
      <text style="font-size: 14px; text-anchor: end; fill: #262626; letter-spacing: -0.216px" x="393.724" y="83.52">0.8</text>
     </g>
    </g>
    <g id="ytick_15">
     <g id="line2d_60">
      <path d="M 398.304 36.36 L 716.3424 36.36" clip-path="url(#p7bc6115513)" style="fill: none; stroke: #ebebeb; stroke-width: 0.8; stroke-linecap: square"/>
     </g>
     <g id="line2d_61"/>
     <g id="text_31">
      <text style="font-size: 14px; text-anchor: end; fill: #262626; letter-spacing: -0.216px" x="393.724" y="41.76">1.0</text>
     </g>
    </g>
    <g id="text_32">
     <text style="font-size: 14px; text-anchor: middle; fill: #262626" x="364.9081" y="141.264" transform="rotate(-90 364.9081 141.264)">p = invlogit(x)</text>
    </g>
   </g>
   <g id="line2d_62">
    <path d="M 398.304 139.68 L 716.3424 139.68" clip-path="url(#p7bc6115513)" style="fill: none; stroke-dasharray: 5.55,2.4; stroke-dashoffset: 0; stroke: #000000; stroke-width: 1.5"/>
   </g>
   <g id="line2d_63">
    <path d="M 398.304 87.038308 
L 716.3424 91.209833 
L 716.3424 91.209833 
" clip-path="url(#p7bc6115513)" style="fill: none; stroke: #e3bf2a; stroke-width: 1.5; stroke-linecap: square"/>
   </g>
   <g id="line2d_64">
    <path d="M 398.304 90.250952 
L 414.285829 95.0372 
L 430.267658 100.069096 
L 446.249487 105.329502 
L 463.829499 111.35355 
L 483.007694 118.168114 
L 505.382255 126.36715 
L 537.345914 138.354063 
L 582.095035 155.124887 
L 604.469596 163.265011 
L 623.647791 170.010889 
L 641.227803 175.959371 
L 657.209632 181.142433 
L 673.191461 186.090468 
L 689.17329 190.788014 
L 703.556937 194.792667 
L 716.3424 198.170802 
L 716.3424 198.170802 
" clip-path="url(#p7bc6115513)" style="fill: none; stroke: #e3bf2a; stroke-width: 1.5; stroke-linecap: square"/>
   </g>
   <g id="line2d_65">
    <path d="M 398.304 164.903381 
L 455.838585 171.177493 
L 510.176804 176.879853 
L 561.318657 182.021927 
L 610.862328 186.776562 
L 658.807815 191.152572 
L 705.15512 195.164057 
L 716.3424 196.099561 
L 716.3424 196.099561 
" clip-path="url(#p7bc6115513)" style="fill: none; stroke: #1dcb65; stroke-width: 1.5; stroke-linecap: square"/>
   </g>
   <g id="line2d_66">
    <path d="M 398.304 36.552742 
L 412.687646 36.956986 
L 423.874927 37.465229 
L 433.464024 38.108798 
L 441.454939 38.853411 
L 447.84767 39.631082 
L 454.240402 40.615917 
L 460.633134 41.860183 
L 465.427682 43.001476 
L 470.222231 44.355825 
L 475.01678 45.959139 
L 479.811329 47.851781 
L 484.605877 50.07846 
L 487.802243 51.772356 
L 490.998609 53.651454 
L 494.194975 55.731376 
L 497.391341 58.027936 
L 500.587707 60.556823 
L 503.784072 63.333236 
L 506.980438 66.371419 
L 510.176804 69.684145 
L 513.37317 73.28212 
L 516.569536 77.173341 
L 519.765902 81.362421 
L 522.962267 85.849917 
L 526.158633 90.631698 
L 529.354999 95.698396 
L 534.149548 103.798209 
L 538.944096 112.428453 
L 543.738645 121.484716 
L 551.72956 137.164007 
L 562.91684 159.149314 
L 567.711389 168.15684 
L 572.505938 176.723169 
L 577.300486 184.747533 
L 580.496852 189.759441 
L 583.693218 194.484163 
L 586.889584 198.913395 
L 590.08595 203.04397 
L 593.282316 206.877291 
L 596.478681 210.418687 
L 599.675047 213.676737 
L 602.871413 216.662602 
L 606.067779 219.389388 
L 609.264145 221.871565 
L 612.460511 224.124459 
L 615.656876 226.163815 
L 618.853242 228.005428 
L 622.049608 229.664856 
L 626.844157 231.845247 
L 631.638706 233.697673 
L 636.433254 235.266291 
L 641.227803 236.590884 
L 646.022352 237.706783 
L 652.415083 238.923034 
L 658.807815 239.88545 
L 665.200547 240.645264 
L 673.191461 241.372653 
L 682.780559 242.001236 
L 693.967839 242.497578 
L 708.351485 242.892316 
L 716.3424 243.034323 
L 716.3424 243.034323 
" clip-path="url(#p7bc6115513)" style="fill: none; stroke: #1e88e5; stroke-width: 1.5; stroke-linecap: square"/>
   </g>
   <g id="line2d_67">
    <path d="M 398.304 61.872563 
L 412.687646 64.579114 
L 427.071292 67.519645 
L 441.454939 70.704024 
L 455.838585 74.140364 
L 468.624048 77.41123 
L 481.409512 80.888224 
L 494.194975 84.571746 
L 508.578621 88.96022 
L 522.962267 93.601427 
L 537.345914 98.484843 
L 551.72956 103.595491 
L 567.711389 109.516626 
L 585.291401 116.286201 
L 604.469596 123.916769 
L 630.040523 134.354757 
L 684.378742 156.631479 
L 703.556937 164.229367 
L 716.3424 169.149635 
L 716.3424 169.149635 
" clip-path="url(#p7bc6115513)" style="fill: none; stroke: #ba87d6; stroke-width: 1.5; stroke-linecap: square"/>
   </g>
   <g id="line2d_68">
    <path d="M 398.304 47.668659 
L 404.696732 49.658068 
L 409.49128 51.35247 
L 414.285829 53.238377 
L 419.080378 55.332633 
L 423.874927 57.652351 
L 428.669475 60.21458 
L 433.464024 63.035887 
L 438.258573 66.13185 
L 443.053122 69.516473 
L 447.84767 73.201509 
L 452.642219 77.195733 
L 457.436768 81.504171 
L 462.231317 86.127331 
L 467.025865 91.060483 
L 471.820414 96.293039 
L 476.614963 101.808094 
L 483.007694 109.559466 
L 489.400426 117.697171 
L 497.391341 128.270652 
L 524.56045 164.671658 
L 530.953182 172.681438 
L 537.345914 180.276456 
L 542.140462 185.659895 
L 546.935011 190.751999 
L 551.72956 195.538909 
L 556.524109 200.012886 
L 561.318657 204.171771 
L 566.113206 208.018312 
L 570.907755 211.559411 
L 575.702304 214.805353 
L 580.496852 217.769046 
L 585.291401 220.465322 
L 590.08595 222.910296 
L 594.880498 225.120822 
L 599.675047 227.114026 
L 604.469596 228.906929 
L 610.862328 231.014532 
L 617.255059 232.833121 
L 623.647791 234.397709 
L 630.040523 235.740361 
L 638.031437 237.150424 
L 646.022352 238.30862 
L 654.013266 239.257699 
L 663.602364 240.171196 
L 674.789644 240.990502 
L 687.575108 241.680112 
L 701.958754 242.227379 
L 716.3424 242.604374 
L 716.3424 242.604374 
" clip-path="url(#p7bc6115513)" style="fill: none; stroke: #ee6c00; stroke-width: 1.5; stroke-linecap: square"/>
   </g>
   <g id="line2d_69">
    <path d="M 398.304 84.385368 
L 406.294915 89.181221 
L 414.285829 94.278248 
L 422.276744 99.66217 
L 430.267658 105.312338 
L 439.856756 112.405412 
L 449.445853 119.784039 
L 462.231317 129.944168 
L 502.185889 162.005915 
L 511.774987 169.301381 
L 521.364084 176.291487 
L 529.354999 181.843558 
L 537.345914 187.120794 
L 545.336828 192.104986 
L 553.327743 196.784195 
L 561.318657 201.152361 
L 569.309572 205.208727 
L 577.300486 208.957158 
L 585.291401 212.405396 
L 593.282316 215.564307 
L 601.27323 218.447151 
L 609.264145 221.068913 
L 617.255059 223.445701 
L 625.245974 225.594227 
L 633.236888 227.531379 
L 642.825986 229.600449 
L 652.415083 231.417171 
L 662.004181 233.008121 
L 673.191461 234.611918 
L 684.378742 235.978294 
L 697.164205 237.290609 
L 709.949668 238.377715 
L 716.3424 238.848516 
L 716.3424 238.848516 
" clip-path="url(#p7bc6115513)" style="fill: none; stroke: #ee6c00; stroke-width: 1.5; stroke-linecap: square"/>
   </g>
   <g id="line2d_70">
    <path d="M 398.304 242.331807 
L 407.893097 241.789416 
L 415.884012 241.140304 
L 422.276744 240.443315 
L 428.669475 239.53837 
L 435.062207 238.366205 
L 439.856756 237.267688 
L 444.651305 235.939778 
L 449.445853 234.338734 
L 454.240402 232.41441 
L 457.436768 230.924235 
L 460.633134 229.247064 
L 463.829499 227.363539 
L 467.025865 225.25344 
L 470.222231 222.895981 
L 473.418597 220.270215 
L 476.614963 217.355556 
L 479.811329 214.132439 
L 483.007694 210.583095 
L 486.20406 206.692465 
L 489.400426 202.4492 
L 492.596792 197.846737 
L 495.793158 192.88437 
L 498.989524 187.568261 
L 502.185889 181.912297 
L 506.980438 172.842057 
L 511.774987 163.170131 
L 518.167719 149.605595 
L 532.551365 118.556258 
L 537.345914 108.766051 
L 542.140462 99.546043 
L 545.336828 93.777551 
L 548.533194 88.342214 
L 551.72956 83.256738 
L 554.925926 78.529862 
L 558.122291 74.163144 
L 561.318657 70.15192 
L 564.515023 66.48637 
L 567.711389 63.152597 
L 570.907755 60.13366 
L 574.104121 57.410517 
L 577.300486 54.962855 
L 580.496852 52.769785 
L 583.693218 50.810414 
L 586.889584 49.064288 
L 590.08595 47.511725 
L 593.282316 46.134049 
L 598.076864 44.357477 
L 602.871413 42.881489 
L 607.665962 41.65876 
L 612.460511 40.648255 
L 618.853242 39.570999 
L 625.245974 38.740029 
L 633.236888 37.965145 
L 641.227803 37.407892 
L 652.415083 36.881607 
L 665.200547 36.515753 
L 682.780559 36.246492 
L 709.949668 36.078659 
L 716.3424 36.060116 
L 716.3424 36.060116 
" clip-path="url(#p7bc6115513)" style="fill: none; stroke: #1dcb65; stroke-width: 1.5; stroke-linecap: square"/>
   </g>
   <g id="line2d_71">
    <path d="M 398.304 105.183057 
L 716.3424 105.48771 
L 716.3424 105.48771 
" clip-path="url(#p7bc6115513)" style="fill: none; stroke: #1e88e5; stroke-width: 1.5; stroke-linecap: square"/>
   </g>
   <g id="line2d_72">
    <path d="M 398.304 236.58879 
L 406.294915 235.348551 
L 414.285829 233.894224 
L 422.276744 232.192995 
L 428.669475 230.629983 
L 435.062207 228.86574 
L 441.454939 226.879046 
L 447.84767 224.647777 
L 454.240402 222.149276 
L 460.633134 219.360854 
L 467.025865 216.260423 
L 471.820414 213.717826 
L 476.614963 210.980136 
L 481.409512 208.040443 
L 486.20406 204.893104 
L 490.998609 201.534039 
L 495.793158 197.961021 
L 500.587707 194.17397 
L 506.980438 188.796055 
L 513.37317 183.05511 
L 519.765902 176.973306 
L 526.158633 170.582366 
L 534.149548 162.222554 
L 543.738645 151.780279 
L 561.318657 132.138453 
L 572.505938 119.831225 
L 580.496852 111.362664 
L 586.889584 104.864069 
L 593.282316 98.659983 
L 599.675047 92.78578 
L 606.067779 87.267254 
L 612.460511 82.120837 
L 617.255059 78.510157 
L 622.049608 75.113608 
L 626.844157 71.92932 
L 631.638706 68.953515 
L 636.433254 66.180804 
L 641.227803 63.60448 
L 647.620535 60.461356 
L 654.013266 57.633064 
L 660.405998 55.097655 
L 666.79873 52.832477 
L 673.191461 50.814838 
L 679.584193 49.022521 
L 685.976925 47.434168 
L 693.967839 45.704859 
L 701.958754 44.226114 
L 709.949668 42.964752 
L 716.3424 42.09211 
L 716.3424 42.09211 
" clip-path="url(#p7bc6115513)" style="fill: none; stroke: #b05a45; stroke-width: 1.5; stroke-linecap: square"/>
   </g>
   <g id="line2d_73">
    <path d="M 398.304 243.348724 
L 430.267658 243.143879 
L 449.445853 242.825824 
L 463.829499 242.374166 
L 475.01678 241.80258 
L 484.605877 241.075103 
L 492.596792 240.23002 
L 498.989524 239.344769 
L 505.382255 238.221018 
L 510.176804 237.185835 
L 514.971353 235.952614 
L 519.765902 234.486736 
L 524.56045 232.748911 
L 529.354999 230.695139 
L 532.551365 229.126663 
L 535.747731 227.380962 
L 538.944096 225.442074 
L 542.140462 223.293623 
L 545.336828 220.919084 
L 548.533194 218.302127 
L 551.72956 215.427038 
L 554.925926 212.279223 
L 558.122291 208.845789 
L 561.318657 205.116197 
L 564.515023 201.082964 
L 567.711389 196.742392 
L 570.907755 192.09528 
L 574.104121 187.14759 
L 578.898669 179.189659 
L 583.693218 170.648381 
L 588.487767 161.620331 
L 594.880498 149.045998 
L 610.862328 117.224843 
L 615.656876 108.224318 
L 620.451425 99.717615 
L 625.245974 91.799354 
L 628.44234 86.87995 
L 631.638706 82.261932 
L 634.835071 77.950742 
L 638.031437 73.946723 
L 641.227803 70.245782 
L 644.424169 66.840113 
L 647.620535 63.718923 
L 650.816901 60.86913 
L 654.013266 58.276008 
L 657.209632 55.923765 
L 660.405998 53.796034 
L 663.602364 51.876292 
L 666.79873 50.148191 
L 671.593278 47.880734 
L 676.387827 45.957948 
L 681.182376 44.333086 
L 685.976925 42.964007 
L 690.771473 41.813293 
L 697.164205 40.562584 
L 703.556937 39.576188 
L 709.949668 38.8001 
L 716.3424 38.190625 
L 716.3424 38.190625 
" clip-path="url(#p7bc6115513)" style="fill: none; stroke: #b05a45; stroke-width: 1.5; stroke-linecap: square"/>
   </g>
   <g id="line2d_74">
    <path d="M 398.304 45.575813 
L 406.294915 47.025525 
L 414.285829 48.680646 
L 422.276744 50.565804 
L 430.267658 52.707174 
L 436.66039 54.623108 
L 443.053122 56.73487 
L 449.445853 59.056852 
L 455.838585 61.6032 
L 462.231317 64.387464 
L 468.624048 67.422184 
L 475.01678 70.718417 
L 481.409512 74.285218 
L 487.802243 78.129071 
L 494.194975 82.253317 
L 500.587707 86.65758 
L 506.980438 91.337234 
L 513.37317 96.28296 
L 519.765902 101.480405 
L 527.756816 108.300914 
L 535.747731 115.434306 
L 545.336828 124.32039 
L 558.122291 136.513887 
L 578.898669 156.366569 
L 588.487767 165.209309 
L 596.478681 172.294366 
L 604.469596 179.057415 
L 610.862328 184.20371 
L 617.255059 189.09486 
L 623.647791 193.717585 
L 630.040523 198.063577 
L 636.433254 202.129139 
L 642.825986 205.914718 
L 649.218718 209.424359 
L 655.611449 212.665131 
L 662.004181 215.646552 
L 668.396913 218.380032 
L 674.789644 220.878358 
L 681.182376 223.155236 
L 687.575108 225.224892 
L 695.566022 227.542493 
L 703.556937 229.586671 
L 711.547851 231.384407 
L 716.3424 232.355489 
L 716.3424 232.355489 
" clip-path="url(#p7bc6115513)" style="fill: none; stroke: #64e4f2; stroke-width: 1.5; stroke-linecap: square"/>
   </g>
   <g id="line2d_75">
    <path d="M 398.304 204.75491 
L 414.285829 201.107144 
L 430.267658 197.209577 
L 446.249487 193.062588 
L 462.231317 188.669927 
L 478.213146 184.039048 
L 494.194975 179.181369 
L 511.774987 173.594633 
L 529.354999 167.778791 
L 550.131377 160.654566 
L 574.104121 152.17516 
L 609.264145 139.460098 
L 650.816901 124.472952 
L 674.789644 116.073929 
L 693.967839 109.576834 
L 711.547851 103.838441 
L 716.3424 102.313792 
L 716.3424 102.313792 
" clip-path="url(#p7bc6115513)" style="fill: none; stroke: #6200ea; stroke-width: 1.5; stroke-linecap: square"/>
   </g>
   <g id="line2d_76">
    <path d="M 398.304 228.64087 
L 407.893097 226.751199 
L 417.482195 224.643656 
L 427.071292 222.299333 
L 436.66039 219.699298 
L 444.651305 217.323897 
L 452.642219 214.747868 
L 460.633134 211.96178 
L 468.624048 208.957273 
L 476.614963 205.727386 
L 484.605877 202.266917 
L 492.596792 198.572792 
L 500.587707 194.644434 
L 508.578621 190.484106 
L 516.569536 186.097223 
L 526.158633 180.546579 
L 535.747731 174.704621 
L 545.336828 168.600913 
L 556.524109 161.198648 
L 569.309572 152.454553 
L 588.487767 139.02695 
L 610.862328 123.422049 
L 623.647791 114.788479 
L 634.835071 107.519168 
L 644.424169 101.552055 
L 654.013266 95.863516 
L 662.004181 91.354506 
L 669.995095 87.06759 
L 677.98601 83.010046 
L 685.976925 79.185852 
L 693.967839 75.595965 
L 701.958754 72.238652 
L 709.949668 69.109845 
L 716.3424 66.76733 
L 716.3424 66.76733 
" clip-path="url(#p7bc6115513)" style="fill: none; stroke: #cf1248; stroke-width: 1.5; stroke-linecap: square"/>
   </g>
   <g id="line2d_77">
    <path d="M 398.304 226.321148 
L 409.49128 224.111838 
L 420.678561 221.649915 
L 430.267658 219.323298 
L 439.856756 216.783839 
L 449.445853 214.019805 
L 459.034951 211.020476 
L 468.624048 207.776549 
L 478.213146 204.280579 
L 487.802243 200.527448 
L 497.391341 196.514844 
L 506.980438 192.243721 
L 516.569536 187.718733 
L 526.158633 182.948585 
L 535.747731 177.946303 
L 546.935011 171.840475 
L 558.122291 165.477994 
L 570.907755 157.94789 
L 586.889584 148.25849 
L 634.835071 118.977042 
L 647.620535 111.530997 
L 658.807815 105.260491 
L 669.995095 99.260886 
L 679.584193 94.35868 
L 689.17329 89.694874 
L 698.762388 85.28057 
L 708.351485 81.122655 
L 716.3424 77.855838 
L 716.3424 77.855838 
" clip-path="url(#p7bc6115513)" style="fill: none; stroke: #ba87d6; stroke-width: 1.5; stroke-linecap: square"/>
   </g>
   <g id="line2d_78">
    <path d="M 398.304 72.471542 
L 427.071292 75.760745 
L 455.838585 79.271505 
L 484.605877 83.005351 
L 513.37317 86.961367 
L 542.140462 91.135899 
L 572.505938 95.772027 
L 602.871413 100.632547 
L 634.835071 105.973963 
L 668.396913 111.805791 
L 705.15512 118.417364 
L 716.3424 120.468945 
L 716.3424 120.468945 
" clip-path="url(#p7bc6115513)" style="fill: none; stroke: #cf1248; stroke-width: 1.5; stroke-linecap: square"/>
   </g>
   <g id="line2d_79">
    <path d="M 398.304 225.627331 
L 404.696732 223.625219 
L 411.089463 221.424101 
L 417.482195 219.010213 
L 423.874927 216.370204 
L 430.267658 213.491498 
L 436.66039 210.362711 
L 443.053122 206.974126 
L 449.445853 203.318197 
L 455.838585 199.390095 
L 462.231317 195.188247 
L 468.624048 190.714862 
L 475.01678 185.976394 
L 481.409512 180.983924 
L 487.802243 175.753406 
L 495.793158 168.912834 
L 503.784072 161.784792 
L 513.37317 152.939921 
L 529.354999 137.82097 
L 545.336828 122.782157 
L 554.925926 114.057854 
L 562.91684 107.066129 
L 570.907755 100.388976 
L 577.300486 95.304809 
L 583.693218 90.469222 
L 590.08595 85.895109 
L 596.478681 81.590625 
L 602.871413 77.559527 
L 609.264145 73.801605 
L 615.656876 70.313191 
L 622.049608 67.087699 
L 628.44234 64.116165 
L 634.835071 61.387775 
L 641.227803 58.890349 
L 647.620535 56.610783 
L 654.013266 54.53543 
L 662.004181 52.207292 
L 669.995095 50.149675 
L 677.98601 48.336432 
L 685.976925 46.742637 
L 695.566022 45.086924 
L 705.15512 43.676439 
L 714.744217 42.477741 
L 716.3424 42.296408 
L 716.3424 42.296408 
" clip-path="url(#p7bc6115513)" style="fill: none; stroke: #cf1248; stroke-width: 1.5; stroke-linecap: square"/>
   </g>
   <g id="line2d_80">
    <path d="M 398.304 240.480037 
L 422.276744 239.566606 
L 443.053122 238.554623 
L 462.231317 237.393738 
L 479.811329 236.097113 
L 495.793158 234.688664 
L 510.176804 233.202982 
L 524.56045 231.480038 
L 537.345914 229.723195 
L 550.131377 227.728854 
L 561.318657 225.768776 
L 572.505938 223.589359 
L 583.693218 221.172573 
L 594.880498 218.50055 
L 604.469596 215.994009 
L 614.058693 213.277106 
L 623.647791 210.340635 
L 633.236888 207.176693 
L 642.825986 203.779044 
L 652.415083 200.143508 
L 662.004181 196.26835 
L 671.593278 192.15466 
L 681.182376 187.806699 
L 690.771473 183.232192 
L 701.958754 177.624358 
L 713.146034 171.748472 
L 716.3424 170.024666 
L 716.3424 170.024666 
" clip-path="url(#p7bc6115513)" style="fill: none; stroke: #6200ea; stroke-width: 1.5; stroke-linecap: square"/>
   </g>
   <g id="line2d_81">
    <path d="M 398.304 49.845037 
L 414.285829 51.830218 
L 428.669475 53.836806 
L 443.053122 56.071099 
L 455.838585 58.263561 
L 468.624048 60.66399 
L 481.409512 63.285093 
L 494.194975 66.138814 
L 506.980438 69.235937 
L 519.765902 72.58565 
L 532.551365 76.195066 
L 543.738645 79.569982 
L 556.524109 83.676163 
L 569.309572 88.046411 
L 582.095035 92.67514 
L 594.880498 97.552457 
L 607.665962 102.663901 
L 622.049608 108.670128 
L 636.433254 114.914136 
L 654.013266 122.808182 
L 674.789644 132.396302 
L 716.3424 151.785472 
L 716.3424 151.785472 
" clip-path="url(#p7bc6115513)" style="fill: none; stroke: #1e88e5; stroke-width: 1.5; stroke-linecap: square"/>
   </g>
   <g id="line2d_82">
    <path d="M 398.304 204.464592 
L 404.696732 200.831076 
L 411.089463 196.95223 
L 417.482195 192.828637 
L 423.874927 188.464145 
L 430.267658 183.866196 
L 438.258573 177.808005 
L 446.249487 171.433676 
L 454.240402 164.783577 
L 463.829499 156.509596 
L 476.614963 145.145958 
L 502.185889 122.301824 
L 511.774987 114.048656 
L 519.765902 107.421146 
L 527.756816 101.073364 
L 535.747731 95.04484 
L 542.140462 90.47229 
L 548.533194 86.134209 
L 554.925926 82.037623 
L 561.318657 78.186004 
L 567.711389 74.579594 
L 574.104121 71.215786 
L 580.496852 68.089535 
L 586.889584 65.193767 
L 593.282316 62.519791 
L 599.675047 60.057677 
L 606.067779 57.796608 
L 614.058693 55.235596 
L 622.049608 52.94802 
L 630.040523 50.910938 
L 638.031437 49.101863 
L 646.022352 47.499165 
L 655.611449 45.819577 
L 665.200547 44.374826 
L 674.789644 43.134966 
L 685.976925 41.911653 
L 698.762388 40.762172 
L 711.547851 39.831949 
L 716.3424 39.531186 
L 716.3424 39.531186 
" clip-path="url(#p7bc6115513)" style="fill: none; stroke: #64e4f2; stroke-width: 1.5; stroke-linecap: square"/>
   </g>
   <g id="text_33">
    <text style="font-size: 16px; text-anchor: middle; fill: #262626" x="557.3232" y="20.496">Resulting Logistic Models</text>
   </g>
  </g>
 </g>
 <defs>
  <clipPath id="p605b40b7c9">
   <rect x="74.16" y="25.92" width="228.24" height="228.24"/>
  </clipPath>
  <clipPath id="p7bc6115513">
   <rect x="398.16" y="25.92" width="318.24" height="228.24"/>
  </clipPath>
 <clipPath id="cm1"><rect x="74.16" y="25.92" width="228.96" height="228.96"/></clipPath>
</defs>
</svg>

</body>
</html>
